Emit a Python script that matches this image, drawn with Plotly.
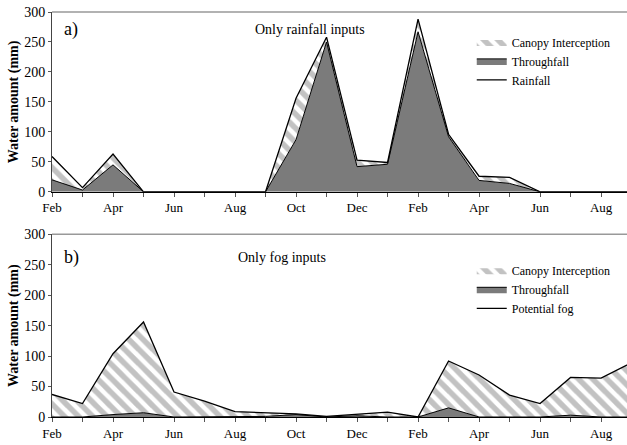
import plotly.graph_objects as go
from plotly.subplots import make_subplots

months = ["Feb", "Mar", "Apr", "May", "Jun", "Jul", "Aug", "Sep", "Oct", "Nov", "Dec", "Jan",
          "Feb", "Mar", "Apr", "May", "Jun", "Jul", "Aug", "Sep"]
tick_labels = [m if i % 2 == 0 else "" for i, m in enumerate(months)]

# Panel a: only rainfall inputs
rainfall = [59, 7, 63, 0, 0, 0, 0, 0, 156, 258, 53, 49, 288, 96, 26, 24, 0, 0, 0, 0]
throughfall_a = [20, 3, 45, 0, 0, 0, 0, 0, 87, 250, 42, 46, 267, 92, 19, 14, 0, 0, 0, 0]

# Panel b: only fog inputs
potential_fog = [37, 22, 104, 156, 41, 26, 9, 7, 5, 1, 4, 8, 0, 92, 69, 36, 22, 65, 64, 89]
throughfall_b = [0, 0, 4, 7, 0, 0, 0, 1, 4, 0, 2, 0, 0, 15, 0, 0, 0, 3, 0, 0]

x = list(range(len(months)))

FONT = "Times New Roman, Liberation Serif, serif"
DARK = "#7b7b7b"
HATCH = "#868686"

fig = make_subplots(rows=2, cols=1, vertical_spacing=0.1)

def add_panel(row, total, thr, total_name, legend):
    fig.add_trace(go.Scatter(
        x=x, y=thr, mode="lines", name="Throughfall", fill="tozeroy",
        fillcolor=DARK, line=dict(color="black", width=1),
        legend=legend, legendrank=2), row=row, col=1)
    fig.add_trace(go.Scatter(
        x=x, y=total, mode="lines", name="Canopy Interception", fill="tonexty",
        fillcolor="white",
        fillpattern=dict(shape="\\", fgcolor=HATCH, bgcolor="white", size=10, solidity=0.55),
        line=dict(color="rgba(0,0,0,0)", width=0),
        legend=legend, legendrank=1), row=row, col=1)
    fig.add_trace(go.Scatter(
        x=x, y=total, mode="lines", name=total_name,
        line=dict(color="black", width=1.3),
        legend=legend, legendrank=3), row=row, col=1)

add_panel(1, rainfall, throughfall_a, "Rainfall", "legend")
add_panel(2, potential_fog, throughfall_b, "Potential fog", "legend2")

for r in (1, 2):
    fig.update_xaxes(range=[0, 18.85], tickvals=x, ticktext=tick_labels,
                     ticks="outside", ticklen=4, tickcolor="#555", showline=True,
                     linecolor="black", linewidth=1, showgrid=False, zeroline=False,
                     automargin=False, ticklabeloverflow="allow",
                     tickfont=dict(family=FONT, size=13, color="black"), row=r, col=1)
    fig.update_yaxes(range=[0, 300], tickvals=[0, 50, 100, 150, 200, 250, 300],
                     ticks="outside", ticklen=3, tickcolor="#555", showline=True,
                     linecolor="#444", linewidth=1, showgrid=False, zeroline=False,
                     automargin=False, ticklabeloverflow="allow",
                     tickfont=dict(family=FONT, size=14, color="black"),
                     title=dict(text="<b>Water amount (mm)</b>", standoff=2,
                                font=dict(family=FONT, size=14, color="black")),
                     row=r, col=1)

leg = dict(xanchor="left", yanchor="top", font=dict(family=FONT, size=12),
           bgcolor="rgba(0,0,0,0)", tracegroupgap=0, itemwidth=30, traceorder="normal")

fig.update_layout(
    width=627, height=445, autosize=False,
    margin=dict(l=52, r=0, t=12, b=28),
    plot_bgcolor="white", paper_bgcolor="white",
    font=dict(family=FONT, size=13, color="black"),
    legend=dict(leg, x=0.73, y=0.962),
    legend2=dict(leg, x=0.73, y=0.398),
    annotations=[
        dict(text="a)", x=0.018, y=0.958, xref="paper", yref="paper", showarrow=False,
             xanchor="left", yanchor="middle", font=dict(family=FONT, size=18)),
        dict(text="Only rainfall inputs", x=0.448, y=0.958, xref="paper", yref="paper",
             showarrow=False, xanchor="center", yanchor="middle", font=dict(family=FONT, size=14)),
        dict(text="b)", x=0.018, y=0.393, xref="paper", yref="paper", showarrow=False,
             xanchor="left", yanchor="middle", font=dict(family=FONT, size=18)),
        dict(text="Only fog inputs", x=0.4, y=0.393, xref="paper", yref="paper",
             showarrow=False, xanchor="center", yanchor="middle", font=dict(family=FONT, size=14)),
    ],
    shapes=[
        dict(type="line", xref="paper", yref="y domain", x0=0, x1=1, y0=1, y1=1,
             line=dict(color="#999", width=1.5)),
        dict(type="line", xref="paper", yref="y2 domain", x0=0, x1=1, y0=1, y1=1,
             line=dict(color="#999", width=1.5)),
    ],
)
fig.update_yaxes(domain=[0.556, 1.0], row=1, col=1)
fig.update_yaxes(domain=[0.0, 0.451], row=2, col=1)

fig.write_html(
    "out.html",
    config={"displayModeBar": False, "responsive": False},
    post_script="document.body.style.margin='0';document.body.style.overflow='hidden';",
)
